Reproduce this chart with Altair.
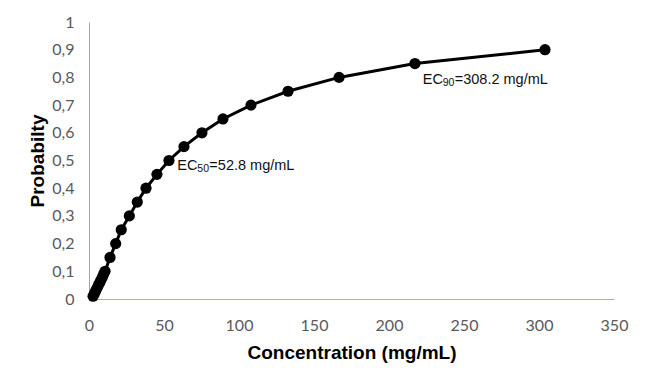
import altair as alt
import pandas as pd

# Data
concentration = [2.7, 3.6, 4.5, 5.4, 6.3, 7.2, 8.1, 9.0, 9.8, 10.7,
                 14.0, 17.8, 21.5, 26.9, 32.2, 38.0, 45.3, 53.3, 63.3,
                 75.3, 89.3, 108.0, 132.7, 166.7, 217.3, 304.0]
probability = [0.01, 0.02, 0.03, 0.04, 0.05, 0.06, 0.07, 0.08, 0.09, 0.10,
               0.15, 0.20, 0.25, 0.30, 0.35, 0.40, 0.45, 0.50, 0.55,
               0.60, 0.65, 0.70, 0.75, 0.80, 0.85, 0.90]

x_ticks = [0, 50, 100, 150, 200, 250, 300, 350]
y_ticks = [0, 0.1, 0.2, 0.3, 0.4, 0.5, 0.6, 0.7, 0.8, 0.9, 1.0]

ann_x = [58.9, 222.5]
ann_y = [0.4646, 0.775]
ann_main = ["EC", "EC"]
ann_sub = ["50", "90"]
ann_rest = ["=52.8 mg/mL", "=308.2 mg/mL"]

df = pd.DataFrame({"conc": concentration, "prob": probability})
ann = pd.DataFrame({"conc": ann_x, "prob": ann_y, "main": ann_main,
                    "sub": ann_sub, "rest": ann_rest})

x_enc = alt.X("conc:Q",
              scale=alt.Scale(domain=[0, 350], nice=False, zero=True),
              axis=alt.Axis(values=x_ticks, tickCount=8, title="Concentration (mg/mL)",
                            grid=False, ticks=False, tickSize=0,
                            labelFlush=False, labelOverlap=False,
                            domainColor="#B4A7C2", domainWidth=1,
                            labelFont="Lato", labelFontSize=16,
                            labelColor="#595959", labelPadding=18,
                            titleFont="Liberation Sans", titleFontSize=19,
                            titleFontWeight="bold", titleColor="#000000",
                            titleX=262.5, titleY=53, titleBaseline="middle",
                            titleAlign="center"))
y_enc = alt.Y("prob:Q",
              scale=alt.Scale(domain=[0, 1], nice=False),
              axis=alt.Axis(values=y_ticks, tickCount=11, title="Probabilty",
                            labelExpr="replace(format(datum.value, '~g'), '.', ',')",
                            grid=False, ticks=False, tickSize=0,
                            labelFlush=False, labelOverlap=False,
                            domainColor="#A6A6A6", domainWidth=1,
                            labelFont="Lato", labelFontSize=16,
                            labelColor="#595959", labelPadding=15,
                            titleFont="Liberation Sans", titleFontSize=19,
                            titleFontWeight="bold", titleColor="#000000",
                            titleX=-52, titleY=138.5, titleBaseline="middle",
                            titleAlign="center", titleAngle=-90))

line = alt.Chart(df).mark_line(color="#000000", strokeWidth=3).encode(
    x=x_enc, y=y_enc, order="prob:Q")
points = alt.Chart(df).mark_circle(color="#000000", size=125, opacity=1).encode(
    x=x_enc, y=y_enc)

base_ann = alt.Chart(ann).encode(x=x_enc, y=y_enc)
t_main = base_ann.mark_text(font="Liberation Sans", fontSize=14.5, color="#111111",
                            align="left", baseline="alphabetic").encode(text="main:N")
t_sub = base_ann.mark_text(font="Liberation Sans", fontSize=10.5, color="#111111",
                           align="left", baseline="alphabetic", dx=20, dy=2).encode(text="sub:N")
t_rest = base_ann.mark_text(font="Liberation Sans", fontSize=14.5, color="#111111",
                            align="left", baseline="alphabetic", dx=32).encode(text="rest:N")

chart = alt.layer(line, points, t_main, t_sub, t_rest).properties(
    width=525, height=277,
    autosize=alt.AutoSizeParams(type="none"),
    padding={"left": 81, "top": 14, "right": 20, "bottom": 70},
    background="#FFFFFF",
).configure_view(strokeWidth=0)

chart.save("out.html", embed_options={"renderer": "svg", "actions": False})
